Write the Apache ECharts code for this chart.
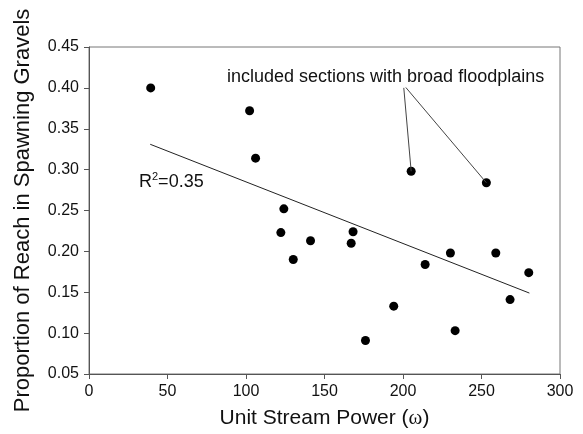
<!DOCTYPE html>
<html>
<head>
<meta charset="utf-8">
<script src="https://cdn.jsdelivr.net/npm/echarts@6/dist/echarts.min.js"></script>
<style>
html,body{margin:0;padding:0;background:#fff;}
#chart{width:583px;height:434px;}
</style>
</head>
<body>
<div id="chart"></div>
<script>
// Data
const streamPower = [39.3, 102.3, 106.1, 124.1, 122.2, 141.1, 130.1, 168.2, 167.0, 176.1, 194.1, 205.2, 214.1, 230.2, 233.2, 253.1, 259.1, 268.2, 280.1];
const proportion  = [0.400, 0.372, 0.314, 0.252, 0.223, 0.213, 0.190, 0.224, 0.210, 0.091, 0.133, 0.298, 0.184, 0.198, 0.103, 0.284, 0.198, 0.141, 0.174];
const fitX = [39.0, 280.5];
const fitY = [0.331, 0.149];
// Annotation leader lines: apex -> highlighted point
const leaderApexX = [200.5, 201.8];
const leaderApexY = [0.400, 0.4005];
const leaderEndX = [205.2, 253.1];
const leaderEndY = [0.298, 0.284];
const annotationText = 'included sections with broad floodplains';
const rSquaredValue = '0.35';

const FONT = 'Liberation Sans, Arial, sans-serif';
const chart = echarts.init(document.getElementById('chart'), null, {renderer: 'canvas'});

const points = streamPower.map((x, i) => [x, proportion[i]]);
const fitLine = fitX.map((x, i) => [x, fitY[i]]);
const leaders = leaderApexX.map((x, i) => [
  {coord: [x, leaderApexY[i]]},
  {coord: [leaderEndX[i], leaderEndY[i]]}
]);

chart.setOption({
  animation: false,
  backgroundColor: '#fff',
  grid: {left: 89, right: 23, top: 47, bottom: 56, show: true, borderColor: '#777', borderWidth: 1, containLabel: false},
  xAxis: {
    type: 'value', min: 0, max: 300, interval: 50,
    name: 'Unit Stream Power ({w|ω})',
    nameLocation: 'middle', nameGap: 34,
    nameTextStyle: {fontFamily: FONT, fontSize: 21, color: '#111',
      rich: {w: {fontFamily: 'Liberation Serif, serif', fontSize: 21, color: '#111'}}},
    axisLine: {show: true, onZero: false, lineStyle: {color: '#555', width: 1}},
    axisTick: {show: true, inside: false, length: 5, lineStyle: {color: '#555'}},
    axisLabel: {fontFamily: FONT, fontSize: 16, color: '#111', margin: 10},
    splitLine: {show: false}
  },
  yAxis: {
    type: 'value', min: 0.05, max: 0.45, interval: 0.05,
    name: 'Proportion of Reach in Spawning Gravels',
    nameLocation: 'middle', nameGap: 55, nameRotate: 90,
    nameTextStyle: {fontFamily: FONT, fontSize: 22, color: '#111'},
    axisLine: {show: true, onZero: false, lineStyle: {color: '#555', width: 1}},
    axisTick: {show: true, inside: false, length: 5, lineStyle: {color: '#555'}},
    axisLabel: {fontFamily: FONT, fontSize: 16, color: '#111', margin: 10,
      formatter: v => v.toFixed(2)},
    splitLine: {show: false}
  },
  series: [
    {
      type: 'line', data: fitLine, showSymbol: false, symbol: 'none',
      lineStyle: {color: '#222', width: 1}, silent: true, z: 2
    },
    {
      type: 'scatter', data: points, symbol: 'circle', symbolSize: 9,
      itemStyle: {color: '#000', opacity: 1}, z: 3,
      markLine: {
        silent: true, symbol: ['none', 'none'],
        label: {show: false},
        lineStyle: {color: '#444', width: 1, type: 'solid', opacity: 1},
        data: leaders
      }
    }
  ],
  graphic: [
    {
      type: 'text', left: 227, top: 68,
      style: {text: annotationText, fontFamily: FONT, fontSize: 18, fill: '#111'}
    },
    {
      type: 'text', left: 139, top: 171,
      style: {
        text: '{r|R}{s|2}{r|=' + rSquaredValue + '}',
        rich: {
          r: {fontFamily: FONT, fontSize: 18, fill: '#111', color: '#111', verticalAlign: 'bottom'},
          s: {fontFamily: FONT, fontSize: 11, fill: '#111', color: '#111', padding: [0, 0, 9, 0], verticalAlign: 'bottom'}
        }
      }
    }
  ]
});
</script>
</body>
</html>
